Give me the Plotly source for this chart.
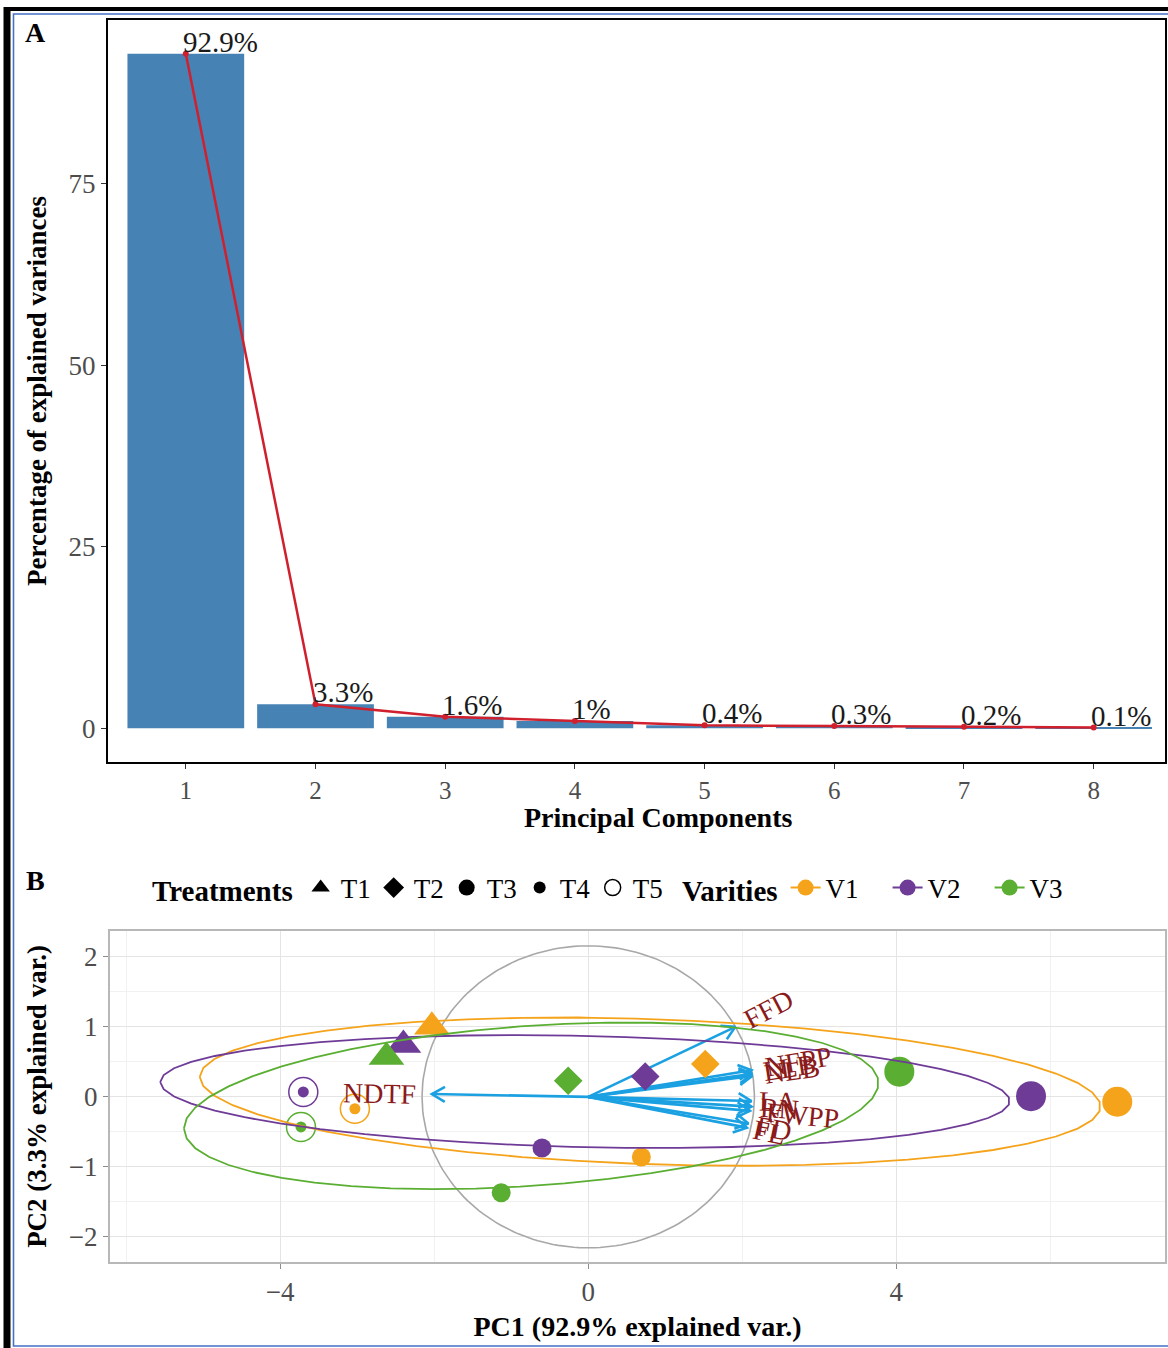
import numpy as np
import plotly.graph_objects as go

W, H = 1168, 1348
FONT = "Liberation Serif, Times New Roman, serif"

# ---------------- Panel A data ----------------
components = [1, 2, 3, 4, 5, 6, 7, 8]
explained = [92.9, 3.3, 1.6, 1.0, 0.4, 0.3, 0.2, 0.1]

# ---------------- Panel B data ----------------
varieties = ["V1", "V2", "V3"]
variety_colors = ["#F5A31A", "#6E3B97", "#5AAE32"]
treatments = ["T1", "T2", "T3", "T4", "T5"]
pc1_V1 = [-2.03, 1.52, 6.87, 0.69, -3.03]
pc2_V1 = [1.00, 0.47, -0.07, -0.86, -0.17]
pc1_V2 = [-2.40, 0.74, 5.75, -0.60, -3.70]
pc2_V2 = [0.74, 0.29, 0.01, -0.73, 0.07]
pc1_V3 = [-2.62, -0.26, 4.04, -1.13, -3.73]
pc2_V3 = [0.57, 0.23, 0.36, -1.37, -0.43]

var_names = ["FFD", "NFPP", "LLB", "NLB", "NDTF", "LA", "RN", "FWPP", "FD", "FL"]
load_pc1 = [1.91, 2.12, 2.13, 2.13, -2.03, 2.12, 2.12, 2.10, 2.08, 2.06]
load_pc2 = [1.00, 0.38, 0.33, 0.30, 0.04, -0.06, -0.14, -0.20, -0.38, -0.44]

# ---------------- layout geometry (pixels) ----------------
A_X0, A_X1, A_Y0, A_Y1 = 108, 1165, 20, 762
B_X0, B_X1, B_Y0, B_Y1 = 110, 1165, 931, 1262
XR_A = [0.4, 8.55]
YR_A = [-4.645, 97.545]
XR_B = [-6.21, 7.49]
YR_B = [-2.36, 2.37]
sx = (B_X1 - B_X0) / (XR_B[1] - XR_B[0])
sy = (B_Y1 - B_Y0) / (YR_B[1] - YR_B[0])

def px(x):
    return x / W

def py(y):
    return 1 - y / H

TICK_COL = "#4D4D4D"
ARROW_COL = "#1BA1E2"
LAB_COL = "#8B1A1A"
LAB_SIZE = 28

fig = go.Figure()

# ---------------- Panel A ----------------
fig.add_trace(go.Bar(x=components, y=explained, width=0.9, marker=dict(color="#4682B4", line=dict(width=0)),
                     xaxis="x", yaxis="y", showlegend=False))
fig.add_trace(go.Scatter(x=components, y=explained, mode="lines+markers",
                         line=dict(color="#D0202E", width=2.5), marker=dict(color="#D0202E", size=6),
                         xaxis="x", yaxis="y", showlegend=False))

annotations = []
for c, v in zip(components, explained):
    annotations.append(dict(x=c, y=v, xref="x", yref="y", text=f"{v:g}%", showarrow=False,
                            xanchor="left", yanchor="bottom", xshift=-5, yshift=-6,
                            font=dict(size=29, color="#1A1A1A", family=FONT)))

# ---------------- Panel B ----------------
all_x = np.array(pc1_V1 + pc1_V2 + pc1_V3)
all_y = np.array(pc2_V1 + pc2_V2 + pc2_V3)

# correlation circle (ggbiplot style)
r = np.sqrt(-2 * np.log(1 - 0.69)) * (np.mean(all_x ** 2) * np.mean(all_y ** 2)) ** 0.25
th = np.linspace(-np.pi, np.pi, 200)
fig.add_trace(go.Scatter(x=r * np.cos(th), y=r * np.sin(th), mode="lines",
                         line=dict(color="#A8A8A8", width=1.6), xaxis="x2", yaxis="y2",
                         showlegend=False, hoverinfo="skip"))

# arrows
seg_x, seg_y, hd_x, hd_y = [], [], [], []
HEAD = 15
for lx, ly in zip(load_pc1, load_pc2):
    seg_x += [0, lx, None]
    seg_y += [0, ly, None]
    vx, vy = lx * sx, ly * sy
    n = np.hypot(vx, vy)
    ux, uy = vx / n, vy / n
    pts = []
    for s in (1, -1):
        a = np.deg2rad(30) * s
        rx = ux * np.cos(a) - uy * np.sin(a)
        ry = ux * np.sin(a) + uy * np.cos(a)
        pts.append((lx - HEAD * rx / sx, ly - HEAD * ry / sy))
    hd_x += [pts[0][0], lx, pts[1][0], None]
    hd_y += [pts[0][1], ly, pts[1][1], None]
fig.add_trace(go.Scatter(x=seg_x, y=seg_y, mode="lines", line=dict(color=ARROW_COL, width=2.6),
                         xaxis="x2", yaxis="y2", showlegend=False, hoverinfo="skip"))
fig.add_trace(go.Scatter(x=hd_x, y=hd_y, mode="lines", line=dict(color=ARROW_COL, width=2.6),
                         xaxis="x2", yaxis="y2", showlegend=False, hoverinfo="skip"))

# points
sym_map = {"T1": "triangle-up", "T2": "diamond", "T3": "circle", "T4": "circle"}
size_map = {"T1": 31, "T2": 22, "T3": 30, "T4": 19}
groups = [(pc1_V1, pc2_V1), (pc1_V2, pc2_V2), (pc1_V3, pc2_V3)]
for (gx, gy), col in zip(groups, variety_colors):
    fx = [x for x, t in zip(gx, treatments) if t != "T5"]
    fy = [y for y, t in zip(gy, treatments) if t != "T5"]
    ft = [t for t in treatments if t != "T5"]
    fig.add_trace(go.Scatter(x=fx, y=fy, mode="markers",
                             marker=dict(color=col, symbol=[sym_map[t] for t in ft], opacity=1,
                                         size=[size_map[t] for t in ft], line=dict(width=0)),
                             xaxis="x2", yaxis="y2", showlegend=False))
    ox = [x for x, t in zip(gx, treatments) if t == "T5"]
    oy = [y for y, t in zip(gy, treatments) if t == "T5"]
    fig.add_trace(go.Scatter(x=ox, y=oy, mode="markers",
                             marker=dict(color=col, symbol="circle-open", size=29, opacity=1,
                                         line=dict(width=1.5, color=col)),
                             xaxis="x2", yaxis="y2", showlegend=False))
    fig.add_trace(go.Scatter(x=ox, y=oy, mode="markers",
                             marker=dict(color=col, symbol="circle", size=11, opacity=1),
                             xaxis="x2", yaxis="y2", showlegend=False))

# ellipses (68% normal data ellipse per variety)
ed = np.sqrt(-2 * np.log(1 - 0.68))
theta = np.concatenate([np.linspace(-np.pi, np.pi, 50), np.linspace(np.pi, -np.pi, 50)])
circ = np.column_stack([np.cos(theta), np.sin(theta)])
for (gx, gy), col in zip(groups, variety_colors):
    sigma = np.cov(np.vstack([gx, gy]))
    L = np.linalg.cholesky(sigma)
    ell = circ @ L.T * ed + np.array([np.mean(gx), np.mean(gy)])
    fig.add_trace(go.Scatter(x=ell[:, 0], y=ell[:, 1], mode="lines", line=dict(color=col, width=1.8),
                             xaxis="x2", yaxis="y2", showlegend=False, hoverinfo="skip"))

# variable labels
WID = {"A": 722, "B": 667, "C": 667, "D": 722, "F": 556, "L": 611, "N": 722, "P": 556,
       "R": 667, "T": 611, "W": 944}
for name, lx, ly in zip(var_names, load_pc1, load_pc2):
    ang = np.degrees(np.arctan(ly / lx))
    w = sum(WID.get(ch, 600) for ch in name) / 1000 * LAB_SIZE
    sgn = 1 if lx > 0 else -1
    off = 0.72 * w * sgn
    annotations.append(dict(x=lx, y=ly, xref="x2", yref="y2", text=name, textangle=-ang,
                            showarrow=False, xanchor="center", yanchor="middle",
                            xshift=off * np.cos(np.radians(ang)), yshift=off * np.sin(np.radians(ang)),
                            font=dict(size=LAB_SIZE, color=LAB_COL, family=FONT)))

# legend entries
leg_T = [("T1", "triangle-up", 22, 0), ("T2", "diamond", 16, 0), ("T3", "circle", 20, 0),
         ("T4", "circle", 12, 0), ("T5", "circle-open", 20, 1.5)]
for name, sym, sz, lw in leg_T:
    fig.add_trace(go.Scatter(x=[None], y=[None], mode="markers", name=name,
                             marker=dict(color="black", symbol=sym, size=sz, line=dict(width=lw, color="black")),
                             xaxis="x2", yaxis="y2", legend="legend"))
for name, col in zip(varieties, variety_colors):
    fig.add_trace(go.Scatter(x=[None], y=[None], mode="lines+markers", name=name,
                             line=dict(color=col, width=2), marker=dict(color=col, size=20),
                             xaxis="x2", yaxis="y2", legend="legend2"))

# panel letters and panel-A x title
annotations.append(dict(x=px(35), y=py(33), xref="paper", yref="paper", text="<b>A</b>", showarrow=False,
                        xanchor="center", yanchor="middle", font=dict(size=28, family=FONT, color="black")))
annotations.append(dict(x=px(35), y=py(880), xref="paper", yref="paper", text="<b>B</b>", showarrow=False,
                        xanchor="center", yanchor="middle", font=dict(size=28, family=FONT, color="black")))
annotations.append(dict(x=px(658), y=py(817), xref="paper", yref="paper", text="<b>Principal Components</b>",
                        showarrow=False, xanchor="center", yanchor="middle",
                        font=dict(size=28, family=FONT, color="black")))

shapes = [
    dict(type="line", xref="paper", yref="paper", x0=px(4), x1=px(1175), y0=py(9), y1=py(9),
         line=dict(color="black", width=4)),
    dict(type="line", xref="paper", yref="paper", x0=px(7), x1=px(7), y0=py(1355), y1=py(7),
         line=dict(color="black", width=7)),
    dict(type="rect", xref="paper", yref="paper", x0=px(13.5), x1=px(1175), y0=py(1346), y1=py(14),
         line=dict(color="#4472C4", width=1.6)),
]

axis_font = dict(size=27, color=TICK_COL, family=FONT)
xa_font = dict(size=25, color=TICK_COL, family=FONT)
title_font = dict(size=27, color="black", family=FONT)

fig.update_layout(
    width=W, height=H, margin=dict(l=0, r=0, t=0, b=0),
    paper_bgcolor="white", plot_bgcolor="white",
    font=dict(family=FONT, size=24, color="black"),
    xaxis=dict(domain=[px(A_X0), px(A_X1)], range=XR_A, tickvals=components, ticks="outside",
               ticklen=5, tickcolor="#333333", showline=True, linecolor="black", linewidth=2, mirror=True,
               showgrid=False, zeroline=False, tickfont=xa_font, anchor="y"),
    yaxis=dict(domain=[py(A_Y1), py(A_Y0)], range=YR_A, tickvals=[0, 25, 50, 75], ticks="outside",
               ticklen=5, tickcolor="#333333", showline=True, linecolor="black", linewidth=2, mirror=True,
               showgrid=False, zeroline=False, tickfont=axis_font,
               title=dict(text="<b>Percentage of explained variances</b>", font=title_font, standoff=14),
               anchor="x"),
    xaxis2=dict(domain=[px(B_X0), px(B_X1)], range=XR_B, tick0=0, dtick=4, ticks="outside", ticklen=5,
                tickcolor="#8C8C8C", showline=True, linecolor="#B8B8B8", linewidth=2, mirror=True,
                showgrid=True, gridcolor="#E4E4E4", gridwidth=1, zeroline=False, tickfont=axis_font,
                minor=dict(dtick=2, tick0=0, showgrid=True, gridcolor="#F1F1F1", gridwidth=0.8),
                title=dict(text="<b>PC1 (92.9% explained var.)</b>", font=dict(size=28, family=FONT), standoff=10),
                anchor="y2"),
    yaxis2=dict(domain=[py(B_Y1), py(B_Y0)], range=YR_B, tick0=0, dtick=1, ticks="outside", ticklen=5,
                tickcolor="#8C8C8C", showline=True, linecolor="#B8B8B8", linewidth=2, mirror=True,
                showgrid=True, gridcolor="#E4E4E4", gridwidth=1, zeroline=False, tickfont=axis_font,
                minor=dict(dtick=0.5, tick0=0, showgrid=True, gridcolor="#F1F1F1", gridwidth=0.8),
                title=dict(text="<b>PC2 (3.3% explained var.)</b>", font=title_font, standoff=14),
                anchor="x2"),
    legend=dict(title=dict(text="<b>Treatments</b>", side="left", font=dict(size=29, family=FONT)),
                orientation="h", x=px(150), y=py(888), xanchor="left", yanchor="middle",
                font=dict(size=27, family=FONT), itemwidth=30, entrywidth=28, entrywidthmode="pixels",
                bgcolor="rgba(0,0,0,0)", borderwidth=0, itemclick=False, itemdoubleclick=False),
    legend2=dict(title=dict(text="<b>Varities</b>", side="left", font=dict(size=29, family=FONT)),
                 orientation="h", x=px(680), y=py(888), xanchor="left", yanchor="middle",
                 font=dict(size=27, family=FONT), itemwidth=30, entrywidth=57, entrywidthmode="pixels",
                 bgcolor="rgba(0,0,0,0)", borderwidth=0, itemclick=False, itemdoubleclick=False),
    annotations=annotations,
    shapes=shapes,
    bargap=0.1,
)

fig.write_html("out.html", config={"displayModeBar": False},
               post_script="document.body.style.margin='0';")
